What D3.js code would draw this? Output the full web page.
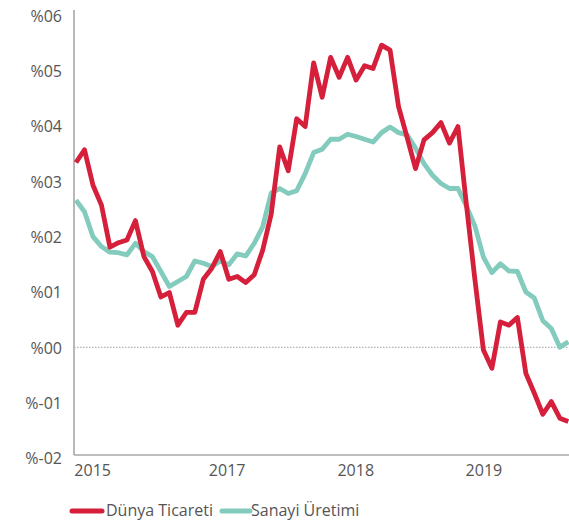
<!DOCTYPE html>
<html>
<head>
<meta charset="utf-8">
<script src="https://cdn.jsdelivr.net/npm/d3@7"></script>
<style>
  html, body { margin: 0; padding: 0; background: #fff; }
  svg text { font-family: "Open Sans", "Noto Sans", sans-serif; fill: #555; }
</style>
</head>
<body>
<svg id="chart" width="569" height="521"></svg>
<script>
// Series (monthly, %)
const dunyaTicareti = [3.34, 3.57, 2.93, 2.57, 1.81, 1.89, 1.94, 2.29, 1.64, 1.37,
  0.91, 0.99, 0.40, 0.63, 0.63, 1.23, 1.43, 1.73, 1.23, 1.28,
  1.17, 1.31, 1.76, 2.41, 3.62, 3.19, 4.13, 3.99, 5.14, 4.52,
  5.24, 4.88, 5.24, 4.83, 5.09, 5.04, 5.46, 5.37, 4.35, 3.80,
  3.23, 3.75, 3.88, 4.06, 3.69, 3.99, 2.57, 1.22, -0.05, -0.38,
  0.46, 0.40, 0.54, -0.47, -0.83, -1.21, -0.98, -1.28, -1.34];
const sanayiUretimi = [2.66, 2.45, 2.00, 1.82, 1.72, 1.71, 1.67, 1.88, 1.73, 1.64,
  1.37, 1.10, 1.19, 1.28, 1.56, 1.52, 1.46, 1.56, 1.49, 1.69,
  1.65, 1.88, 2.18, 2.79, 2.87, 2.78, 2.83, 3.14, 3.52, 3.58,
  3.76, 3.76, 3.85, 3.81, 3.76, 3.71, 3.88, 3.98, 3.88, 3.84,
  3.60, 3.32, 3.11, 2.96, 2.87, 2.87, 2.55, 2.19, 1.63, 1.35,
  1.51, 1.38, 1.37, 1.00, 0.89, 0.48, 0.34, 0.00, 0.10];
const seriesNames = ["Dünya Ticareti", "Sanayi Üretimi"];
const xTickLabels = ["2015", "2017", "2018", "2019"];
const xTickIndex = [1.9, 17.75, 32.9, 48];
const yTicks = [-2, -1, 0, 1, 2, 3, 4, 5, 6];

const colors = ["#d51f3b", "#82cbbd"];

const svg = d3.select("#chart");
const n = dunyaTicareti.length;

const x = d3.scaleLinear().domain([0, n - 1]).range([76, 568.3]);
const y = d3.scaleLinear().domain([-2, 6]).range([458, 15.3]);

const axisX0 = 74, axisY0 = 455;

// y tick labels
const yAxis = d3.axisLeft(y).tickValues(yTicks).tickSize(0).tickPadding(0)
  .tickFormat(v => v < 0 ? "%-0" + Math.abs(v) : "%0" + v);
const gy = svg.append("g").attr("transform", "translate(62,0)").call(yAxis);
gy.select(".domain").remove();
gy.selectAll("text").style("font-size", "16px").attr("fill", "#555").attr("dy", "0.36em");

// x tick labels
const xAxis = d3.axisBottom(x).tickValues(xTickIndex).tickSize(0).tickPadding(0)
  .tickFormat((d, i) => xTickLabels[i]);
const gx = svg.append("g").attr("transform", `translate(0,${axisY0 + 10})`).call(xAxis);
gx.select(".domain").remove();
gx.selectAll("text").style("font-size", "16px").attr("fill", "#555").attr("dy", "0.71em");

// zero line (dotted)
svg.append("line")
  .attr("x1", axisX0).attr("x2", 569)
  .attr("y1", y(0)).attr("y2", y(0))
  .attr("stroke", "#888").attr("stroke-width", 0.8)
  .attr("stroke-dasharray", "1.5,1.5");

// axis lines
svg.append("line")
  .attr("x1", axisX0).attr("x2", axisX0)
  .attr("y1", 10).attr("y2", axisY0)
  .attr("stroke", "#a8a8a8").attr("stroke-width", 1.6);
svg.append("line")
  .attr("x1", axisX0).attr("x2", 569)
  .attr("y1", axisY0).attr("y2", axisY0)
  .attr("stroke", "#a8a8a8").attr("stroke-width", 1.6);

const line = d3.line().x((d, i) => x(i)).y(d => y(d));

[sanayiUretimi, dunyaTicareti].forEach((s, k) => {
  const ci = k === 0 ? 1 : 0;
  svg.append("path")
    .datum(s)
    .attr("d", line)
    .attr("fill", "none")
    .attr("stroke", colors[ci])
    .attr("stroke-width", 4.8)
    .attr("stroke-linejoin", "round")
    .attr("stroke-linecap", "butt");
});

// legend
const legend = [
  { name: seriesNames[0], color: colors[0], x1: 72, x2: 102, tx: 106 },
  { name: seriesNames[1], color: colors[1], x1: 222, x2: 250, tx: 251 }
];
legend.forEach(l => {
  svg.append("line")
    .attr("x1", l.x1).attr("x2", l.x2)
    .attr("y1", 511).attr("y2", 511)
    .attr("stroke", l.color).attr("stroke-width", 5)
    .attr("stroke-linecap", "round");
  svg.append("text")
    .attr("x", l.tx).attr("y", 510)
    .attr("dy", "0.35em")
    .style("font-size", "16px")
    .attr("fill", "#555")
    .text(l.name);
});
</script>
</body>
</html>
